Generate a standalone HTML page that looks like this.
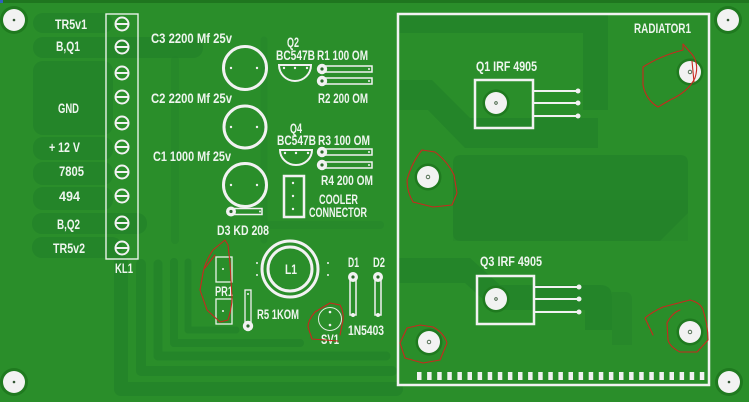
<!DOCTYPE html>
<html><head><meta charset="utf-8"><style>
html,body{margin:0;padding:0;background:#2a8e2a;}
svg{display:block;}
text{font-family:"Liberation Sans Narrow","Liberation Sans",sans-serif;font-size:13.5px;font-weight:bold;fill:#eef5ee;}
</style></head><body>
<svg width="749" height="402" viewBox="0 0 749 402" xmlns="http://www.w3.org/2000/svg">
<rect x="0" y="0" width="749" height="402" fill="#2a8e2a"/>
<rect x="0" y="0" width="749" height="3" fill="#1f761f"/>
<rect x="0" y="0" width="3" height="3" fill="#3060c0"/>

<!-- dark copper traces (subtle) -->
<g fill="#23822a" fill-opacity="0.75">
  <rect x="33" y="13" width="80" height="20" rx="10"/>
  <rect x="33" y="37" width="170" height="21" rx="10"/>
  <rect x="33" y="61" width="80" height="74" rx="10"/>
  <rect x="33" y="137" width="80" height="23" rx="10"/>
  <rect x="33" y="162" width="80" height="23" rx="10"/>
  <rect x="33" y="187" width="80" height="23" rx="10"/>
  <rect x="32" y="213" width="115" height="21" rx="10"/>
  <rect x="32" y="237" width="90" height="21" rx="10"/>
  <path d="M453,163 Q453,155 461,155 H680 Q688,155 688,163 V213 L660,241 H461 Q453,241 453,233 Z"/>
  <path d="M398,13 H608 V110 H583 V33 H398 Z"/>
  <path d="M398,80 H432 L470,118 H598 V148 H465 L428,110 H398 Z"/>
  <path d="M398,258 H470 L500,285 H600 Q612,285 612,297 V330 H585 V310 H495 L465,283 H398 Z"/>
  <path d="M453,200 H688 V241 H453 Z" fill-opacity="0.3"/>
  <path d="M612,292 H625 Q632,292 632,300 V345 H612 Z" fill-opacity="0.5"/>
</g>
<g fill="none" stroke="#23822a" stroke-opacity="0.75" stroke-linejoin="round" stroke-linecap="round">
  <path d="M121,262 V389 H396" stroke-width="14"/>
  <path d="M141,264 V371 H392" stroke-width="10"/>
  <path d="M158,264 V356 H386" stroke-width="9"/>
  <path d="M174,262 V343 H300" stroke-width="8"/>
  <path d="M188,262 V330 H236" stroke-width="7"/>
  <path d="M264,40 V240" stroke-width="7" stroke-opacity="0.4"/>
  <path d="M270,225 H380" stroke-width="8" stroke-opacity="0.4"/>
  <path d="M175,60 V240" stroke-width="8" stroke-opacity="0.35"/>
</g>

<!-- corner mounting holes -->
<g>
  <circle cx="14" cy="20" r="14" fill="#1f7a1f"/><circle cx="14" cy="20" r="11" fill="#f2f2f2"/><circle cx="14" cy="20" r="1.3" fill="#335533"/>
  <circle cx="14" cy="382" r="14" fill="#1f7a1f"/><circle cx="14" cy="382" r="11" fill="#f2f2f2"/><circle cx="14" cy="382" r="1.3" fill="#335533"/>
  <circle cx="728" cy="20" r="14" fill="#1f7a1f"/><circle cx="728" cy="20" r="11" fill="#f2f2f2"/><circle cx="728" cy="20" r="1.3" fill="#335533"/>
  <circle cx="729" cy="382" r="14" fill="#1f7a1f"/><circle cx="729" cy="382" r="11" fill="#f2f2f2"/><circle cx="729" cy="382" r="1.3" fill="#335533"/>
</g>

<!-- KL1 terminal -->
<rect x="106" y="14" width="32" height="245" fill="none" stroke="#e8f3e8" stroke-width="1.4"/>
<g fill="none" stroke="#f2f2f2" stroke-width="2">
  <circle cx="122" cy="24" r="6.5"/><line x1="115.5" y1="24" x2="128.5" y2="24"/>
  <circle cx="122" cy="47" r="6.5"/><line x1="115.5" y1="47" x2="128.5" y2="47"/>
  <circle cx="122" cy="73" r="6.5"/><line x1="115.5" y1="73" x2="128.5" y2="73"/>
  <circle cx="122" cy="97" r="6.5"/><line x1="115.5" y1="97" x2="128.5" y2="97"/>
  <circle cx="122" cy="123" r="6.5"/><line x1="115.5" y1="123" x2="128.5" y2="123"/>
  <circle cx="122" cy="147" r="6.5"/><line x1="115.5" y1="147" x2="128.5" y2="147"/>
  <circle cx="122" cy="172" r="6.5"/><line x1="115.5" y1="172" x2="128.5" y2="172"/>
  <circle cx="122" cy="196" r="6.5"/><line x1="115.5" y1="196" x2="128.5" y2="196"/>
  <circle cx="122" cy="223" r="6.5"/><line x1="115.5" y1="223" x2="128.5" y2="223"/>
  <circle cx="122" cy="248" r="6.5"/><line x1="115.5" y1="248" x2="128.5" y2="248"/>
</g>

<!-- left labels -->
<text x="55" y="29" textLength="32" lengthAdjust="spacingAndGlyphs">TR5v1</text>
<text x="56" y="51" textLength="24" lengthAdjust="spacingAndGlyphs">B,Q1</text>
<text x="58" y="113" textLength="21" lengthAdjust="spacingAndGlyphs">GND</text>
<text x="49" y="152" textLength="31" lengthAdjust="spacingAndGlyphs">+ 12 V</text>
<text x="59" y="176" textLength="25" lengthAdjust="spacingAndGlyphs">7805</text>
<text x="59" y="201" textLength="21" lengthAdjust="spacingAndGlyphs">494</text>
<text x="57" y="229" textLength="23" lengthAdjust="spacingAndGlyphs">B,Q2</text>
<text x="53" y="253" textLength="32" lengthAdjust="spacingAndGlyphs">TR5v2</text>
<text x="115" y="273" textLength="18" lengthAdjust="spacingAndGlyphs">KL1</text>

<!-- capacitors -->
<text x="151" y="43" textLength="81" lengthAdjust="spacingAndGlyphs">C3 2200 Mf 25v</text>
<text x="151" y="103" textLength="81" lengthAdjust="spacingAndGlyphs">C2 2200 Mf 25v</text>
<text x="153" y="161" textLength="78" lengthAdjust="spacingAndGlyphs">C1 1000 Mf 25v</text>
<g fill="none" stroke="#f2f2f2" stroke-width="3">
  <circle cx="245" cy="68" r="21.5"/>
  <circle cx="245" cy="127" r="21"/>
  <circle cx="245" cy="185" r="21.5"/>
</g>
<g fill="#f2f2f2">
  <circle cx="231" cy="68" r="1.2"/><circle cx="257" cy="68" r="1.2"/>
  <circle cx="231" cy="127" r="1.2"/><circle cx="257" cy="127" r="1.2"/>
  <circle cx="231" cy="185" r="1.2"/><circle cx="257" cy="185" r="1.2"/>
</g>

<!-- D3 -->
<rect x="231" y="208.5" width="31" height="6" fill="none" stroke="#f2f2f2" stroke-width="1.5"/>
<circle cx="231" cy="211.5" r="5" fill="#f2f2f2"/><circle cx="231" cy="211.5" r="1.6" fill="#2a6a2a"/>
<circle cx="260" cy="211.5" r="1" fill="#f2f2f2"/>
<text x="217" y="235" textLength="52" lengthAdjust="spacingAndGlyphs">D3 KD 208</text>

<!-- Q2 / Q4 -->
<text x="287" y="47" textLength="12" lengthAdjust="spacingAndGlyphs">Q2</text>
<text x="276" y="60" textLength="39" lengthAdjust="spacingAndGlyphs">BC547B</text>
<path d="M279,65 H311 A16,16 0 0 1 279,65 Z" fill="none" stroke="#f2f2f2" stroke-width="2"/>
<g fill="#f2f2f2"><circle cx="284" cy="68" r="1.2"/><circle cx="295" cy="68" r="1.2"/><circle cx="307" cy="68" r="1.2"/></g>
<text x="290" y="133" textLength="12" lengthAdjust="spacingAndGlyphs">Q4</text>
<text x="277" y="145" textLength="39" lengthAdjust="spacingAndGlyphs">BC547B</text>
<path d="M280,150 H312 A16,15 0 0 1 280,150 Z" fill="none" stroke="#f2f2f2" stroke-width="2"/>
<g fill="#f2f2f2"><circle cx="285" cy="153" r="1.2"/><circle cx="296" cy="153" r="1.2"/><circle cx="308" cy="153" r="1.2"/></g>

<!-- resistors R1-R4 -->
<g fill="none" stroke="#f2f2f2" stroke-width="1.5">
  <rect x="322" y="66" width="50" height="6"/>
  <rect x="322" y="78" width="50" height="6"/>
  <rect x="322" y="149" width="50" height="6"/>
  <rect x="322" y="162" width="50" height="6"/>
</g>
<g>
  <circle cx="322" cy="69" r="5.2" fill="#f2f2f2"/><circle cx="322" cy="69" r="1.6" fill="#2a6a2a"/>
  <circle cx="322" cy="81" r="5.2" fill="#f2f2f2"/><circle cx="322" cy="81" r="1.6" fill="#2a6a2a"/>
  <circle cx="322" cy="152" r="5.2" fill="#f2f2f2"/><circle cx="322" cy="152" r="1.6" fill="#2a6a2a"/>
  <circle cx="322" cy="165" r="5.2" fill="#f2f2f2"/><circle cx="322" cy="165" r="1.6" fill="#2a6a2a"/>
  <g fill="#f2f2f2"><circle cx="369" cy="69" r="1"/><circle cx="369" cy="81" r="1"/><circle cx="369" cy="152" r="1"/><circle cx="369" cy="165" r="1"/></g>
</g>
<text x="317" y="60" textLength="51" lengthAdjust="spacingAndGlyphs">R1 100 OM</text>
<text x="318" y="103" textLength="50" lengthAdjust="spacingAndGlyphs">R2 200 OM</text>
<text x="318" y="145" textLength="52" lengthAdjust="spacingAndGlyphs">R3 100 OM</text>
<text x="321" y="185" textLength="52" lengthAdjust="spacingAndGlyphs">R4 200 OM</text>

<!-- cooler connector -->
<rect x="284" y="176" width="20" height="41" fill="none" stroke="#f2f2f2" stroke-width="2.5"/>
<g fill="#f2f2f2"><circle cx="293" cy="183" r="1.2"/><circle cx="293" cy="196" r="1.2"/><circle cx="293" cy="209" r="1.2"/></g>
<text x="319" y="204" textLength="39" lengthAdjust="spacingAndGlyphs">COOLER</text>
<text x="309" y="217" textLength="58" lengthAdjust="spacingAndGlyphs">CONNECTOR</text>

<!-- L1 -->
<circle cx="290" cy="269" r="28" fill="none" stroke="#f2f2f2" stroke-width="3"/>
<circle cx="290" cy="269" r="22" fill="none" stroke="#f2f2f2" stroke-width="3"/>
<g fill="#f2f2f2"><circle cx="257" cy="263" r="1"/><circle cx="257" cy="275" r="1"/><circle cx="328" cy="263" r="1"/><circle cx="328" cy="275" r="1"/></g>
<text x="285" y="274" textLength="12" lengthAdjust="spacingAndGlyphs">L1</text>

<!-- PR1 -->
<rect x="216" y="257" width="16" height="25" fill="none" stroke="#e8f3e8" stroke-width="1.3"/>
<rect x="216" y="299" width="16" height="25" fill="none" stroke="#e8f3e8" stroke-width="1.3"/>
<g fill="#f2f2f2"><circle cx="223" cy="269" r="1"/><circle cx="223" cy="311" r="1"/></g>
<text x="215" y="296" textLength="18" lengthAdjust="spacingAndGlyphs">PR1</text>

<!-- R5 -->
<rect x="245" y="290" width="6" height="35" fill="none" stroke="#f2f2f2" stroke-width="1.3"/>
<circle cx="248" cy="294" r="1" fill="#f2f2f2"/>
<circle cx="248" cy="326" r="5.2" fill="#f2f2f2"/><circle cx="248" cy="326" r="1.6" fill="#2a6a2a"/>
<text x="257" y="319" textLength="42" lengthAdjust="spacingAndGlyphs">R5 1KOM</text>

<!-- SV1 -->
<circle cx="330" cy="319" r="11.5" fill="none" stroke="#dfeedf" stroke-width="1"/>
<g fill="#f2f2f2"><circle cx="330" cy="312" r="1.3"/><circle cx="330" cy="325" r="1.3"/></g>
<text x="321" y="344" textLength="18" lengthAdjust="spacingAndGlyphs">SV1</text>

<!-- D1 D2 -->
<rect x="350" y="277" width="6" height="38" fill="none" stroke="#f2f2f2" stroke-width="1.5"/>
<rect x="375" y="277" width="6" height="38" fill="none" stroke="#f2f2f2" stroke-width="1.5"/>
<circle cx="353" cy="277" r="5" fill="#f2f2f2"/><circle cx="353" cy="277" r="1.6" fill="#2a6a2a"/>
<circle cx="378" cy="277" r="5" fill="#f2f2f2"/><circle cx="378" cy="277" r="1.6" fill="#2a6a2a"/>
<g fill="#f2f2f2"><circle cx="353" cy="315" r="2"/><circle cx="378" cy="315" r="2"/></g>
<text x="348" y="267" textLength="11" lengthAdjust="spacingAndGlyphs">D1</text>
<text x="373" y="267" textLength="12" lengthAdjust="spacingAndGlyphs">D2</text>
<text x="348" y="335" textLength="36" lengthAdjust="spacingAndGlyphs">1N5403</text>

<!-- radiator -->
<rect x="398" y="14" width="311" height="371" fill="none" stroke="#f2f2f2" stroke-width="2.5"/>
<text x="634" y="33" textLength="57" lengthAdjust="spacingAndGlyphs">RADIATOR1</text>

<!-- Q1 -->
<text x="476" y="71" textLength="61" lengthAdjust="spacingAndGlyphs">Q1 IRF 4905</text>
<rect x="475" y="80" width="58" height="48" fill="none" stroke="#f2f2f2" stroke-width="2.5"/>
<g stroke="#f2f2f2" stroke-width="2"><line x1="533" y1="91" x2="577" y2="91"/><line x1="533" y1="103" x2="577" y2="103"/><line x1="533" y1="116" x2="577" y2="116"/></g>
<g fill="#f2f2f2"><circle cx="578" cy="91" r="2.5"/><circle cx="578" cy="103" r="2.5"/><circle cx="578" cy="116" r="2.5"/></g>
<!-- Q3 -->
<text x="480" y="266" textLength="62" lengthAdjust="spacingAndGlyphs">Q3 IRF 4905</text>
<rect x="477" y="276" width="57" height="48" fill="none" stroke="#f2f2f2" stroke-width="2.5"/>
<g stroke="#f2f2f2" stroke-width="2"><line x1="534" y1="287" x2="578" y2="287"/><line x1="534" y1="299" x2="578" y2="299"/><line x1="534" y1="312" x2="578" y2="312"/></g>
<g fill="#f2f2f2"><circle cx="579" cy="287" r="2.5"/><circle cx="579" cy="299" r="2.5"/><circle cx="579" cy="312" r="2.5"/></g>

<!-- radiator holes -->
<g>
  <circle cx="496" cy="103" r="13.5" fill="#1f7a1f"/><circle cx="496" cy="103" r="11" fill="#f2f2f2"/><circle cx="496" cy="103" r="1.3" fill="none" stroke="#335533" stroke-width="0.8"/>
  <circle cx="496" cy="299" r="13.5" fill="#1f7a1f"/><circle cx="496" cy="299" r="11" fill="#f2f2f2"/><circle cx="496" cy="299" r="1.3" fill="none" stroke="#335533" stroke-width="0.8"/>
  <circle cx="690" cy="72" r="13.5" fill="#1f7a1f"/><circle cx="690" cy="72" r="11" fill="#f2f2f2"/><circle cx="690" cy="72" r="1.8" fill="none" stroke="#335533" stroke-width="0.8"/>
  <circle cx="428" cy="177" r="13.5" fill="#1f7a1f"/><circle cx="428" cy="177" r="11" fill="#f2f2f2"/><circle cx="428" cy="177" r="1.8" fill="none" stroke="#335533" stroke-width="0.8"/>
  <circle cx="429" cy="342" r="13.5" fill="#1f7a1f"/><circle cx="429" cy="342" r="11" fill="#f2f2f2"/><circle cx="429" cy="342" r="1.8" fill="none" stroke="#335533" stroke-width="0.8"/>
  <circle cx="690" cy="332" r="13.5" fill="#1f7a1f"/><circle cx="690" cy="332" r="11" fill="#f2f2f2"/><circle cx="690" cy="332" r="1.8" fill="none" stroke="#335533" stroke-width="0.8"/>
</g>

<!-- bottom pad row -->
<g fill="#f2f2f2">
  <rect x="417" y="372" width="4.5" height="8"/><rect x="427.1" y="372" width="4.5" height="8"/><rect x="437.2" y="372" width="4.5" height="8"/><rect x="447.3" y="372" width="4.5" height="8"/><rect x="457.4" y="372" width="4.5" height="8"/>
  <rect x="467.5" y="372" width="4.5" height="8"/><rect x="477.6" y="372" width="4.5" height="8"/><rect x="487.7" y="372" width="4.5" height="8"/><rect x="497.8" y="372" width="4.5" height="8"/><rect x="507.9" y="372" width="4.5" height="8"/>
  <rect x="518" y="372" width="4.5" height="8"/><rect x="528.1" y="372" width="4.5" height="8"/><rect x="538.2" y="372" width="4.5" height="8"/><rect x="548.3" y="372" width="4.5" height="8"/><rect x="558.4" y="372" width="4.5" height="8"/>
  <rect x="568.5" y="372" width="4.5" height="8"/><rect x="578.6" y="372" width="4.5" height="8"/><rect x="588.7" y="372" width="4.5" height="8"/><rect x="598.8" y="372" width="4.5" height="8"/><rect x="608.9" y="372" width="4.5" height="8"/>
  <rect x="619" y="372" width="4.5" height="8"/><rect x="629.1" y="372" width="4.5" height="8"/><rect x="639.2" y="372" width="4.5" height="8"/><rect x="649.3" y="372" width="4.5" height="8"/><rect x="659.4" y="372" width="4.5" height="8"/>
  <rect x="669.5" y="372" width="4.5" height="8"/><rect x="679.6" y="372" width="4.5" height="8"/><rect x="689.7" y="372" width="4.5" height="8"/><rect x="699.8" y="372" width="4.5" height="8"/>
</g>

<!-- red hand-drawn marks -->
<g fill="none" stroke="#c8281e" stroke-width="1.1" stroke-linejoin="round" stroke-linecap="round">
  <path d="M683,44 L690,52 Q700,62 695,78 Q688,92 670,100 L658,107 Q646,100 643,85 L643,67 Q660,56 683,50 Z"/>
  <path d="M692,61 L694,82"/>
  <path d="M422,150 L435,152 Q448,162 454,175 L457,193 L452,205 L433,207 L413,202 Q407,192 407,180 Q412,162 422,150"/>
  <path d="M400,343 L407,328 L420,325 L433,327 Q444,333 447,343 L440,360 L423,363 L405,358 Z"/>
  <path d="M653,335 L645,318 Q652,312 663,307 L690,300 Q701,303 703,310 Q708,325 708,340 L697,352 L680,352 Q670,347 668,340 L667,323 Q672,313 680,310"/>
  <path d="M225,240 L213,250 Q205,262 203,273 L200,290 L207,310 L220,322 L228,320 Q232,308 232,297 L230,263 L228,245 Z"/>
  <path d="M205,268 L215,255"/>
  <path d="M330,303 L315,312 Q308,320 308,327 L312,339 L338,341"/>
  <path d="M330,303 L340,305 Q344,312 343,320 L340,335"/>
</g>
</svg>
</body></html>
